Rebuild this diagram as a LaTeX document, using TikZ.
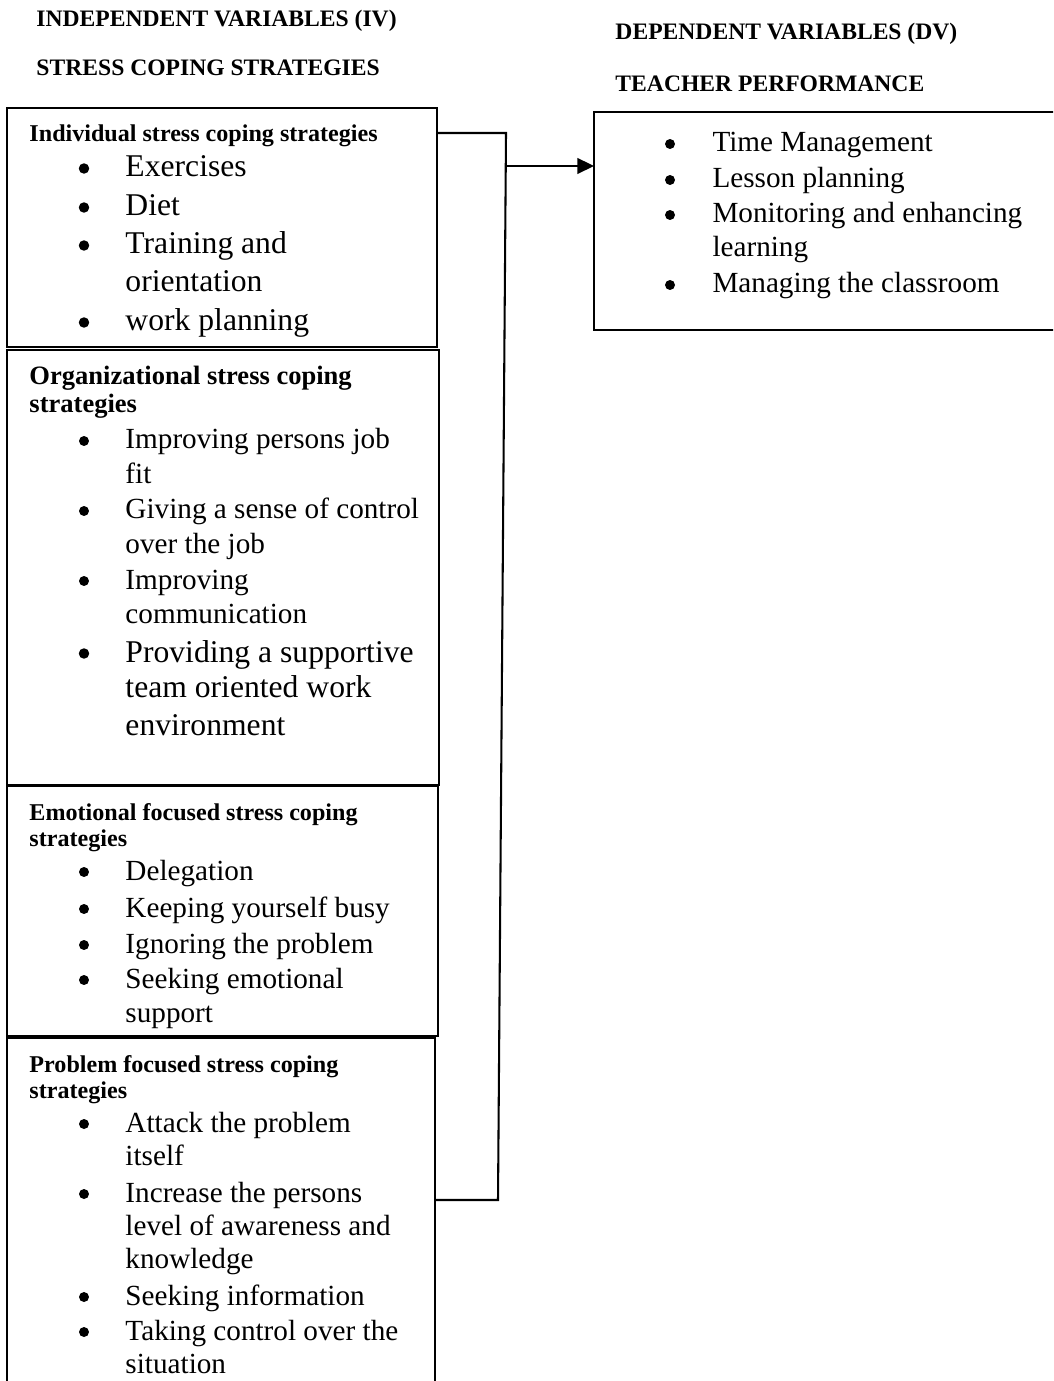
\documentclass[tikz,border=0pt]{standalone}
\usepackage{fontspec}
\setmainfont{Liberation Serif}
\usetikzlibrary{arrows.meta,fit}
\begin{document}
\begin{tikzpicture}[x=0.411pt,y=-0.411pt,
  boxline/.style={draw=black, line width=0.7pt, inner sep=0pt, outer sep=0pt},
  wire/.style={draw=black, line width=0.85pt},
  itm/.style={anchor=base west, inner sep=0pt, font=\fontsize{12}{14}\selectfont},
  itmL/.style={anchor=base west, inner sep=0pt, font=\fontsize{13}{15}\selectfont},
  bul/.style={circle, fill=black, draw=none, inner sep=0pt, minimum size=4.1pt},
  bulL/.style={circle, fill=black, draw=none, inner sep=0pt, minimum size=4.3pt},
  hdr/.style={anchor=base west, inner sep=0pt, font=\bfseries\fontsize{9.9}{12}\selectfont},
  hdrL/.style={anchor=base west, inner sep=0pt, font=\bfseries\fontsize{10.9}{13}\selectfont},
  ttl/.style={anchor=base west, inner sep=0pt, font=\bfseries\fontsize{9.7}{12}\selectfont}]
\clip (0,0) rectangle (1053,1381);
\fill[white] (0,0) rectangle (1053,1381);

% titles
\node[ttl] (iv) at (36,27) {INDEPENDENT VARIABLES (IV)};
\node[ttl] (scs) at (36,76) {STRESS COPING STRATEGIES};
\node[ttl] (dvt) at (615,40) {DEPENDENT VARIABLES (DV)};
\node[ttl] (tp) at (615,92) {TEACHER PERFORMANCE};

% boxes
\node[boxline, fit={(7,108) (437,347)}] (b1) {};
\node[boxline, fit={(7,350) (439,785)}] (b2) {};
\node[boxline, fit={(7,786) (438,1036)}] (b3) {};
\node[boxline, fit={(7,1038) (435,1430)}] (b4) {};
\node[boxline, fit={(594,112) (1080,330)}] (dv) {};

% box headers
\node[hdr] (h1) at (29,142) {Individual stress coping strategies};
\node[hdrL] (h2a) at (29,385) {Organizational stress coping};
\node[hdrL] (h2b) at (29,413) {strategies};
\node[hdr] (h3a) at (29,820) {Emotional focused stress coping};
\node[hdr] (h3b) at (29,846) {strategies};
\node[hdr] (h4a) at (29,1072) {Problem focused stress coping};
\node[hdr] (h4b) at (29,1098) {strategies};

% large items
\foreach \n/\y/\t in {
  e1/177/Exercises, e2/216/Diet, e3/254/Training and, e4/292/orientation,
  e5/331/work planning,
  p1/662/Providing a supportive, p2/697/team oriented work, p3/735/environment}
  \node[itmL] (\n) at (125,\y) {\t};
\foreach \n/\y in {f1/177, f2/216, f3/254, f4/331, f5/662}
  \node[bulL] (\n) at (84,\y-8.5) {};

% normal items, left column
\foreach \n/\y/\t in {
  o1/449/Improving persons job, o2/483/fit, o3/519/Giving a sense of control,
  o4/553/over the job, o5/589/Improving, o6/623/communication,
  m1/880/Delegation, m2/917/Keeping yourself busy, m3/953/Ignoring the problem,
  m4/988/Seeking emotional, m5/1022/support,
  r1/1132/Attack the problem, r2/1165/itself, r3/1202/Increase the persons,
  r4/1235/level of awareness and, r5/1268/knowledge, r6/1305/Seeking information,
  r7/1340/Taking control over the, r8/1373/situation}
  \node[itm] (\n) at (125,\y) {\t};
\foreach \n/\y in {g1/449, g2/519, g3/589, g4/880, g5/917, g6/953, g7/988,
  g8/1132, g9/1202, g10/1305, g11/1340}
  \node[bul] (\n) at (84,\y-8) {};

% dependent variable items
\foreach \n/\y/\t in {
  d1/152/Time Management, d2/188/Lesson planning, d3/223/Monitoring and enhancing,
  d4/257/learning, d5/293/Managing the classroom}
  \node[itm] (\n) at (712,\y) {\t};
\foreach \n/\y in {k1/152, k2/188, k3/223, k4/293}
  \node[bul] (\n) at (670,\y-8) {};

% connectors
\coordinate (j1) at (506,133);
\coordinate (j2) at (498,1200);
\coordinate (j3) at (505,166);
\draw[wire] (b1.east |- j1) -- (j1) -- (j2) -- (b4.east |- j2);
\draw[wire, -{Triangle[length=6.8pt,width=6.4pt]}] (j3) -- (dv.west |- j3);
\end{tikzpicture}
\end{document}
